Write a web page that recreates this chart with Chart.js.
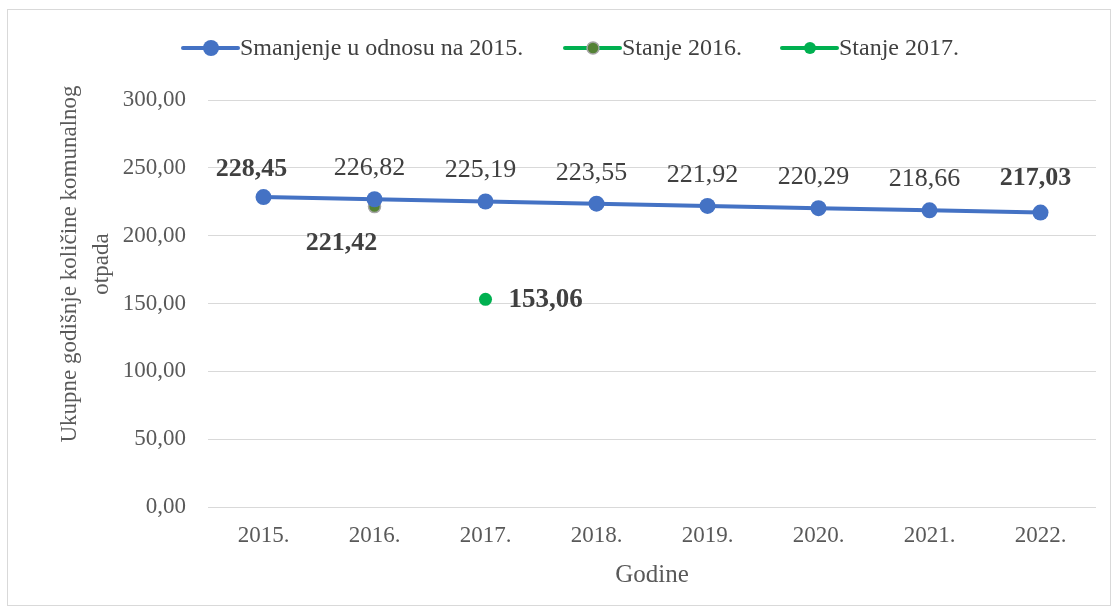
<!DOCTYPE html>
<html>
<head>
<meta charset="UTF-8" />
<script src="https://cdn.jsdelivr.net/npm/chart.js"></script>
<style>
  body { margin: 0; padding: 0; background: #ffffff; }
  canvas { display: block; }
</style>
<script>
var years = ["2015.", "2016.", "2017.", "2018.", "2019.", "2020.", "2021.", "2022."];
var smanjenje = [228.45, 226.82, 225.19, 223.55, 221.92, 220.29, 218.66, 217.03];
var stanje2016 = [null, 221.42, null, null, null, null, null, null];
var stanje2017 = [null, null, 153.06, null, null, null, null, null];
var yTicks = [0, 50, 100, 150, 200, 250, 300];
var seriesNames = ["Smanjenje u odnosu na 2015.", "Stanje 2016.", "Stanje 2017."];
var yTitle = ["Ukupne godišnje količine komunalnog", "otpada"];
var xTitle = "Godine";

var fontFam = "'Liberation Serif', 'Times New Roman', serif";

function fmt(v) {
    return v.toFixed(2).replace(".", ",");
}
</script>
</head>
<body>
<canvas id="chart" width="1118" height="614"></canvas>
<script>
// etikete podataka
var labelPlugin = {
    id: "oznake",
    afterDatasetsDraw: function (chart) {
        var ctx = chart.ctx;
        ctx.save();
        ctx.fillStyle = "#404040";
        ctx.textBaseline = "middle";

        var m0 = chart.getDatasetMeta(0);
        m0.data.forEach(function (pt, i) {
            var bold = (i === 0 || i === smanjenje.length - 1);
            ctx.font = (bold ? "bold " : "") + "26px " + fontFam;
            ctx.textAlign = "center";
            var dy = bold ? (i === 0 ? -28 : -34) : -31;
            ctx.fillText(fmt(smanjenje[i]), pt.x - (i === 0 ? 12 : 5), pt.y + dy);
        });

        var m1 = chart.getDatasetMeta(1);
        m1.data.forEach(function (pt, i) {
            if (stanje2016[i] == null) return;
            ctx.font = "bold 26px " + fontFam;
            ctx.textAlign = "center";
            ctx.fillText(fmt(stanje2016[i]), pt.x - 33, pt.y + 37);
        });

        var m2 = chart.getDatasetMeta(2);
        m2.data.forEach(function (pt, i) {
            if (stanje2017[i] == null) return;
            ctx.font = "bold 27px " + fontFam;
            ctx.textAlign = "left";
            ctx.fillText(fmt(stanje2017[i]), pt.x + 23, pt.y + 1);
        });
        ctx.restore();
    },
    afterDraw: function (chart) {
        var ctx = chart.ctx;
        ctx.save();
        // okvir
        ctx.strokeStyle = "#d9d9d9";
        ctx.lineWidth = 1;
        ctx.strokeRect(7.5, 9.5, 1103, 596);

        // naslov y ose
        ctx.fillStyle = "#595959";
        ctx.font = "23px " + fontFam;
        ctx.textAlign = "center";
        ctx.textBaseline = "middle";
        ctx.translate(70, 264);
        ctx.rotate(-Math.PI / 2);
        ctx.fillText(yTitle[0], 0, 0);
        ctx.fillText(yTitle[1], 0, 32);
        ctx.restore();

        // legenda
        ctx.save();
        var items = [
            { x: 183, ds: chart.data.datasets[0], r: 8 },
            { x: 565, ds: chart.data.datasets[1], r: 6 },
            { x: 782, ds: chart.data.datasets[2], r: 6 }
        ];
        ctx.font = "24px " + fontFam;
        ctx.textBaseline = "middle";
        ctx.textAlign = "left";
        items.forEach(function (it, k) {
            var y = 48;
            ctx.strokeStyle = k === 0 ? "#4472c4" : "#00b050";
            ctx.lineWidth = 4;
            ctx.lineCap = "round";
            ctx.beginPath();
            ctx.moveTo(it.x, y);
            ctx.lineTo(it.x + 55, y);
            ctx.stroke();
            ctx.beginPath();
            ctx.arc(it.x + 28, y, it.r, 0, Math.PI * 2);
            ctx.fillStyle = it.ds.pointBackgroundColor;
            ctx.fill();
            if (it.ds.pointBorderWidth > 0) {
                ctx.lineWidth = it.ds.pointBorderWidth;
                ctx.strokeStyle = it.ds.pointBorderColor;
                ctx.stroke();
            }
            ctx.fillStyle = "#404040";
            ctx.fillText(seriesNames[k], it.x + 57, y + 1);
        });
        ctx.restore();
    }
};

new Chart(document.getElementById("chart"), {
    type: "line",
    data: {
        labels: years,
        datasets: [
            {
                label: seriesNames[0],
                data: smanjenje,
                borderColor: "#4472c4",
                borderWidth: 4,
                pointRadius: 8,
                pointHoverRadius: 8,
                pointBackgroundColor: "#4472c4",
                pointBorderColor: "#4472c4",
                pointBorderWidth: 0,
                tension: 0
            },
            {
                label: seriesNames[1],
                data: stanje2016,
                borderColor: "#00b050",
                showLine: false,
                pointRadius: 6,
                pointBackgroundColor: "#548235",
                pointBorderColor: "#a5a5a5",
                pointBorderWidth: 1.5
            },
            {
                label: seriesNames[2],
                data: stanje2017,
                borderColor: "#00b050",
                showLine: false,
                pointRadius: 6.5,
                pointBackgroundColor: "#00b050",
                pointBorderColor: "#00b050",
                pointBorderWidth: 0
            }
        ]
    },
    options: {
        responsive: false,
        animation: false,
        events: [],
        layout: { padding: { left: 0, top: 100, right: 22, bottom: 0 } },
        plugins: {
            legend: { display: false },
            tooltip: { enabled: false }
        },
        scales: {
            x: {
                offset: true,
                grid: { display: false, drawTicks: false },
                border: { display: false },
                ticks: {
                    color: "#595959",
                    font: { family: fontFam, size: 23 },
                    padding: 15
                },
                title: {
                    display: true,
                    text: xTitle,
                    color: "#595959",
                    font: { family: fontFam, size: 25 },
                    padding: { top: 0, bottom: 24 }
                },
                afterFit: function (s) { s.height = 107; }
            },
            y: {
                min: yTicks[0],
                max: yTicks[yTicks.length - 1],
                afterBuildTicks: function (s) {
                    s.ticks = yTicks.map(function (v) { return { value: v }; });
                },
                grid: { color: "#d9d9d9", lineWidth: 1, drawTicks: false },
                border: { display: false },
                ticks: {
                    color: "#595959",
                    font: { family: fontFam, size: 23 },
                    padding: 22,
                    callback: function (v) { return fmt(v); }
                },
                afterFit: function (s) { s.width = 208; }
            }
        }
    },
    plugins: [labelPlugin]
});
</script>
</body>
</html>
